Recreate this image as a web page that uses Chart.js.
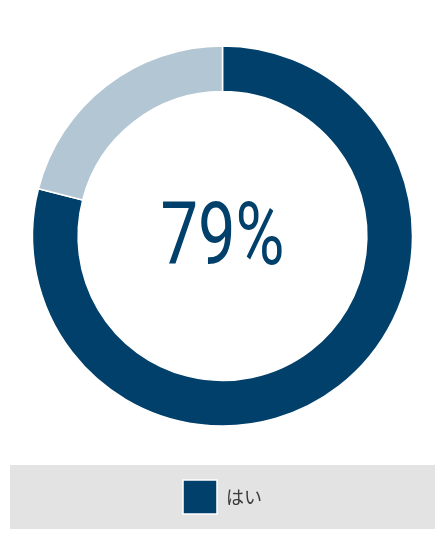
<!DOCTYPE html>
<html>
<head>
<meta charset="utf-8">
<script src="https://cdn.jsdelivr.net/npm/chart.js@4"></script>
<style>
  html, body { margin: 0; padding: 0; background: #fff; }
  #wrap { width: 445px; height: 540px; position: relative; }
</style>
</head>
<body>
<div id="wrap"><canvas id="chartCanvas"></canvas></div>
<script>
const labels = ["はい", "いいえ"];
const values = [79, 21];
const colors = ["#01406b", "#b3c6d3"];

// draws the grey band behind the legend
const legendBg = {
  id: "legendBg",
  beforeDraw(chart) {
    const lg = chart.legend;
    if (!lg) return;
    const ctx = chart.ctx;
    ctx.save();
    ctx.fillStyle = "#e3e3e3";
    ctx.fillRect(lg.left, lg.top, lg.width, lg.height + 5);
    ctx.restore();
  }
};

// big percentage in the middle of the ring
const centerText = {
  id: "centerText",
  afterDraw(chart) {
    const arc = chart.getDatasetMeta(0).data[0];
    if (!arc) return;
    const ctx = chart.ctx;
    ctx.save();
    ctx.translate(arc.x, arc.y);
    ctx.scale(0.76, 1);
    ctx.font = "400 88px Roboto";
    ctx.fillStyle = "#01406b";
    ctx.textAlign = "center";
    ctx.textBaseline = "middle";
    ctx.fillText(values[0] + "%", 0, 6);
    ctx.restore();
  }
};

const ctx = document.getElementById("chartCanvas").getContext("2d");
new Chart(ctx, {
  type: "doughnut",
  data: {
    labels: labels,
    datasets: [{
      data: values,
      backgroundColor: colors,
      borderColor: "#ffffff",
      borderWidth: 1.5,
      hoverOffset: 0
    }]
  },
  options: {
    responsive: true,
    maintainAspectRatio: false,
    animation: false,
    radius: 190,
    cutout: "76%",
    layout: { padding: { top: 7, bottom: 16, left: 10, right: 10 } },
    plugins: {
      tooltip: { enabled: false },
      legend: {
        position: "bottom",
        labels: {
          boxWidth: 34,
          boxHeight: 34,
          padding: 15,
          color: "#3a3a3a",
          font: { family: "'Noto Sans CJK JP', 'Noto Sans'", size: 18 },
          filter: (item) => item.index === 0
        }
      }
    }
  },
  plugins: [legendBg, centerText]
});
</script>
</body>
</html>
